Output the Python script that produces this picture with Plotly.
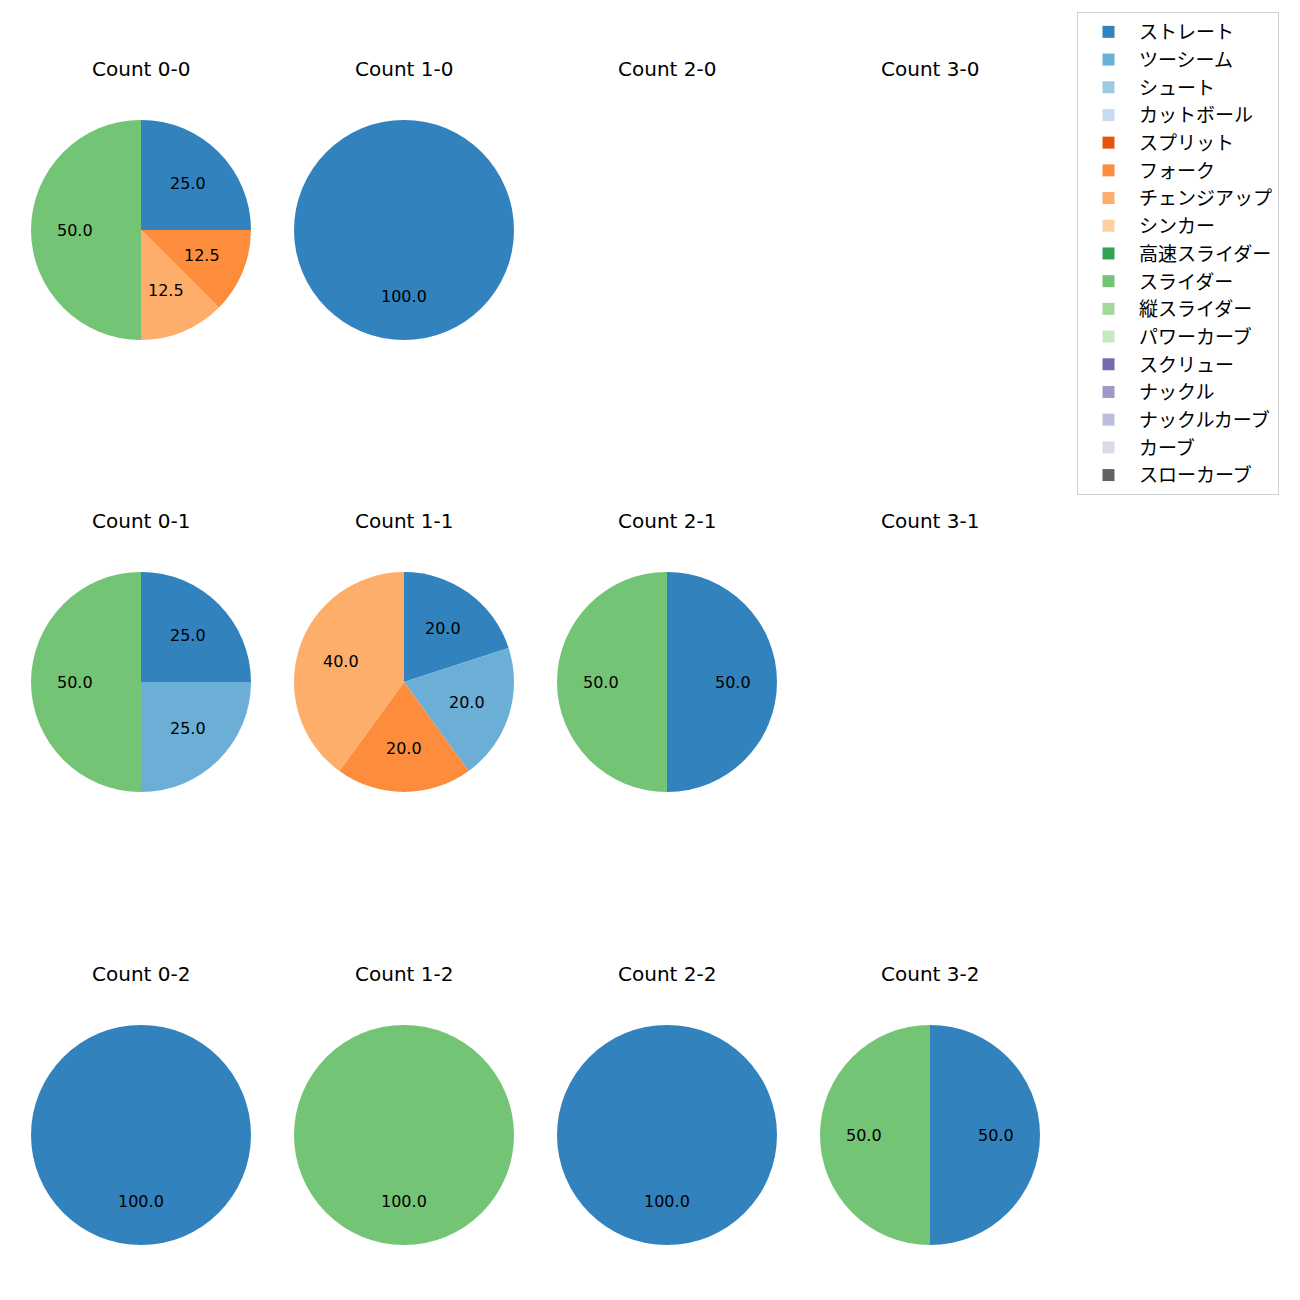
import math
import plotly.graph_objects as go

W, H = 1300, 1300
OFF = 8  # page body margin in the browser

pitch_types = ["ストレート", "ツーシーム", "シュート", "カットボール", "スプリット", "フォーク",
               "チェンジアップ", "シンカー", "高速スライダー", "スライダー", "縦スライダー",
               "パワーカーブ", "スクリュー", "ナックル", "ナックルカーブ", "カーブ", "スローカーブ"]
colors = ["#3182bd", "#6baed6", "#9ecae1", "#c6dbef", "#e6550d", "#fd8d3c", "#fdae6b",
          "#fdd0a2", "#31a354", "#74c476", "#a1d99b", "#c7e9c0", "#756bb1", "#9e9ac8",
          "#bcbddc", "#dadaeb", "#636363"]

# counts: (balls-strikes) -> share by pitch type (percent)
count_0_0 = {"ストレート": 25.0, "フォーク": 12.5, "チェンジアップ": 12.5, "スライダー": 50.0}
count_1_0 = {"ストレート": 100.0}
count_2_0 = {}
count_3_0 = {}
count_0_1 = {"ストレート": 25.0, "ツーシーム": 25.0, "スライダー": 50.0}
count_1_1 = {"ストレート": 20.0, "ツーシーム": 20.0, "フォーク": 20.0, "チェンジアップ": 40.0}
count_2_1 = {"ストレート": 50.0, "スライダー": 50.0}
count_3_1 = {}
count_0_2 = {"ストレート": 100.0}
count_1_2 = {"スライダー": 100.0}
count_2_2 = {"ストレート": 100.0}
count_3_2 = {"ストレート": 50.0, "スライダー": 50.0}

grid = [
    [("Count 0-0", count_0_0), ("Count 1-0", count_1_0), ("Count 2-0", count_2_0), ("Count 3-0", count_3_0)],
    [("Count 0-1", count_0_1), ("Count 1-1", count_1_1), ("Count 2-1", count_2_1), ("Count 3-1", count_3_1)],
    [("Count 0-2", count_0_2), ("Count 1-2", count_1_2), ("Count 2-2", count_2_2), ("Count 3-2", count_3_2)],
]

col_cx = [141 - OFF, 404 - OFF, 667 - OFF, 930 - OFF]
row_cy = [230 - OFF, 682 - OFF, 1135 - OFF]
R = 110
LATIN = "DejaVu Sans, Noto Sans CJK JP, sans-serif"
CJK = "Noto Sans CJK JP, DejaVu Sans, sans-serif"

fig = go.Figure()
annotations = []
legend_done = False
for ri, row in enumerate(grid):
    for ci, (title, data) in enumerate(row):
        cx, cy = col_cx[ci], row_cy[ri]
        annotations.append(dict(text=title, x=cx / W, y=1 - (cy - 161) / H, xref="paper", yref="paper",
                                showarrow=False, xanchor="center", yanchor="middle",
                                font=dict(size=20, color="black", family=LATIN)))
        if not data:
            continue
        vals = [data.get(p, 0.0) for p in pitch_types]
        fig.add_trace(go.Pie(
            labels=pitch_types, values=vals, sort=False, direction="clockwise", rotation=0,
            marker=dict(colors=colors, line=dict(width=0)),
            textinfo="none", textposition="none",
            domain=dict(x=[(cx - R) / W, (cx + R) / W], y=[1 - (cy + R) / H, 1 - (cy - R) / H]),
            showlegend=not legend_done, name=title,
        ))
        legend_done = True
        total = sum(vals)
        cum = 0.0
        for v in vals:
            if v > 0:
                ang = math.radians(90 - 360 * (cum + v / 2) / total)
                lx = cx + 0.6 * R * math.cos(ang)
                ly = cy - 0.6 * R * math.sin(ang)
                annotations.append(dict(text=f"{v:.1f}", x=lx / W, y=1 - ly / H, xref="paper", yref="paper",
                                        showarrow=False, xanchor="center", yanchor="middle",
                                        font=dict(size=16, color="black", family=LATIN)))
            cum += v

fig.update_layout(
    width=W, height=H, margin=dict(l=0, r=0, t=0, b=0),
    paper_bgcolor="white", plot_bgcolor="white",
    annotations=annotations,
    font=dict(family=CJK),
    legend=dict(x=(1077 - OFF) / W, y=1 - (12 - OFF) / H, xanchor="left", yanchor="top",
                bordercolor="#d0d0d0", borderwidth=1, bgcolor="white", itemwidth=51,
                font=dict(size=19, color="black", family=CJK)),
)

fig.write_html("out.html")
